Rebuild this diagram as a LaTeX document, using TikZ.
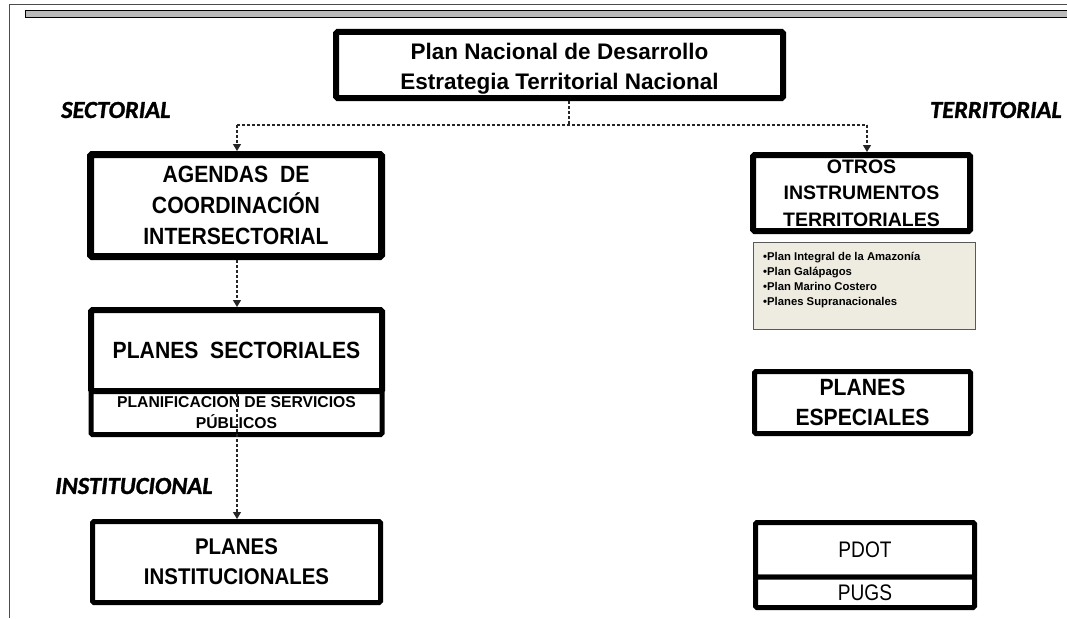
\documentclass[tikz,border=0pt]{standalone}
\usepackage{fontspec}
\setmainfont{Liberation Sans}
\newfontfamily\condfont{Liberation Sans}[FakeStretch=0.9]
\newfontfamily\narrowfont{Liberation Sans}[FakeStretch=0.85]
\newfontfamily\calfont{Carlito}[FakeBold=1.2]
\usetikzlibrary{arrows.meta}
\tikzset{
  box/.style={draw=black, fill=white, rounded corners=1.5pt, inner sep=0pt, align=center},
  conn/.style={draw=black!85, line width=1.2pt, dash pattern=on 3pt off 2pt},
  arr/.style={conn, -{Triangle[length=7pt,width=8pt]}},
  lbl/.style={font=\calfont\bfseries\itshape\fontsize{24.5}{28}\selectfont, inner sep=0pt},
  frameline/.style={draw=black!70, line width=1pt},
}
\begin{document}
\begin{tikzpicture}[x=1pt,y=-1pt]
\useasboundingbox (0,0) rectangle (1067,618);
% frame
\draw[frameline] (9,618) -- (9,5) -- (1067,5);
\draw[fill=black!27, draw=black, line width=1pt] (25,11) rectangle (1067,18);

% title
\node[box, line width=6pt, minimum width=447pt, minimum height=66pt] (pnd) at (559.5,65) {};
\node[align=center, inner sep=0pt, font=\bfseries\fontsize{22.5}{30}\selectfont] (pndtxt) at (559.5,69)
  {Plan Nacional de Desarrollo\\Estrategia Territorial Nacional};

% labels
\node[lbl, anchor=west] (sect) at (61,110) {SECTORIAL};
\node[lbl, anchor=east] (terr) at (1062,110) {TERRITORIAL};
\node[lbl, anchor=west] (inst) at (55,486) {INSTITUCIONAL};

% left column
\node[box, line width=7pt, minimum width=291pt, minimum height=102pt,
      font=\condfont\bfseries\fontsize{23.5}{31}\selectfont] (agen) at (236,205.5)
  {AGENDAS\ \ DE\\COORDINACIÓN\\INTERSECTORIAL};
\node[box, line width=5pt, minimum width=291pt, minimum height=44pt,
      font=\bfseries\fontsize{15.7}{20.5}\selectfont] (pserv) at (236.5,412.5)
  {PLANIFICACION DE SERVICIOS\\PÚBLICOS};
\node[box, line width=6pt, minimum width=291pt, minimum height=81pt,
      font=\condfont\bfseries\fontsize{23.5}{26}\selectfont] (psec) at (236.5,350.5)
  {PLANES\ \ SECTORIALES};
\node[box, line width=5pt, minimum width=288pt, minimum height=81pt,
      font=\condfont\bfseries\fontsize{22.7}{30}\selectfont] (pinst) at (236.5,562)
  {PLANES\\INSTITUCIONALES};

% right column
\node[box, line width=6pt, minimum width=217pt, minimum height=76pt,
      font=\bfseries\fontsize{19.5}{26.5}\selectfont] (otros) at (861.5,193)
  {OTROS\\INSTRUMENTOS\\TERRITORIALES};
\node[draw=black!65, fill={rgb,255:red,238;green,236;blue,225}, line width=1pt,
      minimum width=222pt, minimum height=87pt, inner sep=0pt] (lista) at (864,285.5) {};
\node[anchor=west, align=left, inner sep=0pt,
      font=\bfseries\fontsize{11.3}{15.3}\selectfont] (listatxt) at (763,280)
  {\textbullet Plan Integral de la Amazonía\\\textbullet Plan Galápagos\\\textbullet Plan Marino Costero\\\textbullet Planes Supranacionales};
\node[box, line width=5pt, minimum width=216pt, minimum height=62pt,
      font=\condfont\bfseries\fontsize{23.5}{30}\selectfont] (pesp) at (862.5,402.5)
  {PLANES\\ESPECIALES};
\node[box, line width=5pt, minimum width=219pt, minimum height=54.5pt,
      font=\narrowfont\fontsize{22.5}{24}\selectfont] (pdot) at (865,549.75) {PDOT};
\node[box, line width=5pt, minimum width=219pt, minimum height=30.5pt,
      font=\narrowfont\fontsize{22.5}{24}\selectfont] (pugs) at (865,592.25) {PUGS};

% connectors
\coordinate (j) at (569,125);
\coordinate (jl) at (237,125);
\coordinate (jr) at (867,125);
\draw[conn] (pnd.south -| j) -- (j);
\draw[conn] (jl) -- (jr);
\draw[arr] (jl) -- (jl |- agen.north);
\draw[arr] (jr) -- (jr |- otros.north);
\draw[arr] (agen.south -| jl) -- (jl |- psec.north);
\draw[arr] (psec.south -| jl) -- (jl |- pinst.north);
\end{tikzpicture}
\end{document}
